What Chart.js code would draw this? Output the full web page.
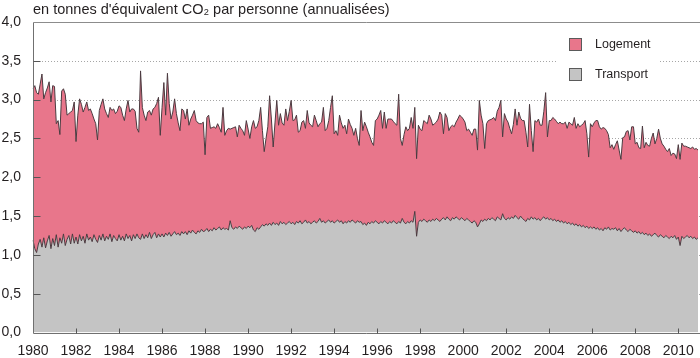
<!DOCTYPE html>
<html lang="fr">
<head>
<meta charset="utf-8">
<title>Émissions de CO2 par personne</title>
<script src="https://cdn.jsdelivr.net/npm/chart.js@4.4.0/dist/chart.umd.min.js"></script>
<style>
  html, body { margin: 0; padding: 0; background: #ffffff; }
  #wrap { position: relative; width: 700px; height: 358px; }
  canvas { display: block; }
</style>
</head>
<body>
<div id="wrap"><canvas id="c" width="700" height="358"></canvas></div>
<script>
// ---- Data (monthly, Jan 1980 – Dec 2010) ----
const firstYear = 1980;
const lastYear = 2010;
const yTickValues = [0, 0.5, 1, 1.5, 2, 2.5, 3, 3.5, 4];
const titleText = "en tonnes d'équivalent CO\u2082 par personne (annualisées)";
const seriesNames = ["Logement", "Transport"];

// Total (Logement + Transport), top edge of the pink area
const totalValues = [
  3.14,3.18,3.09,3.07,3.20,3.33,3.01,3.09,3.15,3.23,2.97,3.18,
  3.17,2.69,2.73,2.55,3.11,3.14,3.07,2.80,2.82,2.84,2.86,2.97,
  2.46,2.80,3.01,2.94,2.84,2.90,2.97,2.86,2.88,2.82,2.75,2.69,
  2.48,2.86,2.94,3.01,2.88,2.82,2.77,2.90,2.86,2.88,2.82,2.85,
  2.92,2.90,2.80,2.73,2.88,2.99,2.84,2.88,2.88,2.85,2.63,2.58,
  3.37,2.90,2.80,2.73,2.84,2.86,2.80,2.88,2.90,2.95,3.03,2.54,
  2.90,3.22,2.80,3.34,2.95,2.75,2.84,3.01,2.82,2.70,2.60,2.88,
  2.86,2.75,2.88,2.67,2.75,2.80,2.86,2.73,2.70,2.69,2.69,2.71,
  2.29,2.77,2.80,2.63,2.64,2.65,2.63,2.69,2.64,2.58,2.90,2.54,
  2.60,2.63,2.62,2.63,2.64,2.65,2.52,2.67,2.63,2.60,2.54,2.73,
  2.62,2.50,2.65,2.73,2.63,2.65,2.73,2.90,2.60,2.33,2.50,2.65,
  3.05,2.75,2.39,2.70,2.99,2.67,2.82,2.70,2.67,2.88,2.73,2.85,
  2.99,2.73,2.74,2.80,2.58,2.60,2.71,2.73,2.63,2.86,2.70,2.67,
  2.65,2.80,2.73,2.65,2.69,2.71,2.90,2.60,2.63,2.73,2.90,3.05,
  2.56,2.60,2.54,2.80,2.70,2.63,2.67,2.56,2.75,2.68,2.63,2.54,
  2.63,2.50,2.41,2.86,2.60,2.71,2.65,2.58,2.52,2.45,2.41,2.73,
  2.75,2.80,2.86,2.63,2.84,2.63,2.75,2.75,2.75,2.72,2.69,2.67,
  3.07,2.50,2.41,2.55,2.65,2.60,2.63,2.77,2.63,2.90,2.24,2.67,
  2.62,2.60,2.73,2.71,2.69,2.80,2.75,2.67,2.69,2.71,2.75,2.84,
  2.80,2.56,2.82,2.77,2.60,2.65,2.67,2.65,2.71,2.75,2.80,2.78,
  2.75,2.71,2.60,2.62,2.58,2.54,2.62,2.62,2.35,2.99,2.80,2.69,
  2.37,2.69,2.73,2.74,2.75,2.77,2.73,2.85,2.90,2.99,2.52,2.82,
  2.75,2.71,2.63,2.56,2.68,2.88,2.67,2.84,2.76,2.73,2.73,2.58,
  2.39,2.94,2.60,2.33,2.73,2.71,2.75,2.67,2.67,2.85,3.09,2.52,
  2.73,2.73,2.77,2.75,2.72,2.69,2.71,2.69,2.69,2.71,2.63,2.71,
  2.69,2.67,2.77,2.63,2.69,2.65,2.67,2.69,2.73,2.56,2.26,2.69,
  2.65,2.70,2.73,2.73,2.65,2.62,2.64,2.63,2.60,2.55,2.38,2.42,
  2.36,2.42,2.47,2.35,2.23,2.51,2.52,2.59,2.60,2.48,2.65,2.65,
  2.43,2.45,2.38,2.37,2.66,2.38,2.45,2.41,2.40,2.50,2.57,2.43,
  2.50,2.62,2.50,2.43,2.40,2.36,2.33,2.37,2.28,2.31,2.30,2.24,
  2.42,2.23,2.44,2.40,2.40,2.39,2.38,2.37,2.39,2.36,2.37,2.35
];

// Transport (grey area)
const transportValues = [
  1.19,1.08,1.03,1.14,1.20,1.10,1.22,1.09,1.18,1.25,1.08,1.21,
  1.12,1.26,1.10,1.22,1.15,1.27,1.12,1.20,1.25,1.14,1.27,1.15,
  1.23,1.14,1.26,1.18,1.24,1.15,1.27,1.19,1.23,1.17,1.26,1.20,
  1.16,1.25,1.19,1.27,1.18,1.24,1.20,1.27,1.17,1.25,1.21,1.18,
  1.26,1.19,1.24,1.18,1.27,1.21,1.25,1.18,1.26,1.21,1.27,1.22,
  1.20,1.27,1.21,1.26,1.22,1.29,1.21,1.26,1.29,1.22,1.27,1.23,
  1.27,1.23,1.28,1.25,1.29,1.24,1.27,1.30,1.26,1.28,1.25,1.30,
  1.27,1.30,1.26,1.31,1.28,1.32,1.29,1.27,1.31,1.29,1.33,1.30,
  1.31,1.34,1.30,1.33,1.31,1.35,1.32,1.34,1.36,1.32,1.35,1.33,
  1.34,1.32,1.44,1.35,1.33,1.36,1.34,1.37,1.35,1.33,1.36,1.34,
  1.37,1.35,1.38,1.32,1.30,1.35,1.33,1.36,1.39,1.37,1.40,1.38,
  1.41,1.38,1.42,1.39,1.41,1.38,1.43,1.40,1.42,1.39,1.41,1.43,
  1.40,1.42,1.39,1.43,1.41,1.44,1.40,1.42,1.45,1.41,1.43,1.40,
  1.42,1.44,1.41,1.43,1.47,1.42,1.44,1.41,1.43,1.45,1.42,1.44,
  1.41,1.43,1.45,1.42,1.44,1.40,1.43,1.41,1.44,1.42,1.45,1.43,
  1.41,1.44,1.42,1.43,1.39,1.41,1.38,1.42,1.40,1.43,1.41,1.44,
  1.42,1.40,1.43,1.41,1.44,1.42,1.40,1.43,1.41,1.44,1.42,1.40,
  1.43,1.41,1.47,1.42,1.40,1.43,1.41,1.44,1.42,1.56,1.24,1.42,
  1.45,1.43,1.46,1.44,1.42,1.45,1.43,1.46,1.44,1.47,1.45,1.43,
  1.46,1.48,1.45,1.49,1.46,1.44,1.48,1.46,1.49,1.47,1.45,1.48,
  1.46,1.44,1.47,1.45,1.43,1.41,1.44,1.42,1.36,1.40,1.45,1.43,
  1.46,1.44,1.47,1.45,1.48,1.46,1.44,1.49,1.47,1.45,1.53,1.47,
  1.45,1.48,1.46,1.49,1.47,1.51,1.48,1.46,1.50,1.47,1.45,1.43,
  1.47,1.45,1.49,1.46,1.48,1.45,1.47,1.44,1.47,1.49,1.46,1.48,
  1.45,1.47,1.44,1.46,1.43,1.45,1.42,1.44,1.41,1.43,1.40,1.42,
  1.39,1.41,1.38,1.40,1.37,1.39,1.36,1.38,1.35,1.37,1.34,1.36,
  1.34,1.36,1.33,1.35,1.32,1.34,1.31,1.35,1.33,1.36,1.32,1.34,
  1.33,1.35,1.31,1.34,1.30,1.33,1.35,1.32,1.30,1.33,1.31,1.29,
  1.31,1.28,1.30,1.27,1.29,1.26,1.28,1.25,1.27,1.24,1.26,1.28,
  1.25,1.23,1.26,1.24,1.22,1.25,1.23,1.21,1.24,1.22,1.25,1.20,
  1.23,1.12,1.24,1.21,1.23,1.25,1.22,1.24,1.21,1.23,1.20,1.22
];

// ---- Build what the library needs from the arrays ----
const monthLabels = [];
for (let yr = firstYear; yr <= lastYear; yr++) {
  for (let mo = 1; mo <= 12; mo++) monthLabels.push(yr + "-" + String(mo).padStart(2, "0"));
}
const logementValues = totalValues.map((t, i) => Math.round((t - transportValues[i]) * 100) / 100);

const FONT = "'Liberation Sans', Arial, Helvetica, sans-serif";
const TEXT = "#231f20";
const PINK = "#e8768b";
const GREY = "#c4c4c4";
const LINE = "#4b3b40";

function isYearTick(label) {
  const yr = parseInt(label.slice(0, 4), 10);
  return label.endsWith("-01") && (yr - firstYear) % 2 === 0;
}

const decor = {
  id: "decor",
  beforeDatasetsDraw(chart) {
    const { ctx, chartArea: a, scales: { y } } = chart;
    ctx.save();
    ctx.strokeStyle = "#a6a6a6";
    ctx.lineWidth = 1;
    ctx.setLineDash([1, 2]);
    yTickValues.forEach(v => {
      if (v <= 0 || v >= 4) return;
      const py = Math.round(y.getPixelForValue(v)) + 0.5;
      ctx.beginPath(); ctx.moveTo(a.left, py); ctx.lineTo(700, py); ctx.stroke();
    });
    ctx.restore();
  },
  afterDatasetsDraw(chart) {
    const { ctx, chartArea: a, scales: { x, y } } = chart;
    ctx.save();
    ctx.lineWidth = 1;
    ctx.strokeStyle = "#8c8c8c";
    const top = Math.round(y.getPixelForValue(4)) + 0.5;
    const bot = Math.round(y.getPixelForValue(0)) + 0.5;
    const left = Math.round(a.left) + 0.5;
    ctx.beginPath(); ctx.moveTo(left, top); ctx.lineTo(700, top); ctx.stroke();
    ctx.strokeStyle = "#707070";
    ctx.beginPath(); ctx.moveTo(left, top); ctx.lineTo(left, bot); ctx.lineTo(700, bot); ctx.stroke();
    // inward ticks
    ctx.strokeStyle = "#555555";
    yTickValues.forEach(v => {
      if (v <= 0 || v >= 4) return;
      const py = Math.round(y.getPixelForValue(v)) + 0.5;
      ctx.beginPath(); ctx.moveTo(left, py); ctx.lineTo(left + 7, py); ctx.stroke();
    });
    monthLabels.forEach((lab, i) => {
      if (!isYearTick(lab) || i === 0) return;
      const px = Math.round(x.getPixelForValue(i)) + 0.5;
      ctx.beginPath(); ctx.moveTo(px, bot); ctx.lineTo(px, bot - 5); ctx.stroke();
    });
    // legend
    ctx.fillStyle = "#ffffff";
    ctx.fillRect(557, 30, 102, 60);
    const items = [
      { name: seriesNames[0], color: PINK, y: 38 },
      { name: seriesNames[1], color: GREY, y: 68 }
    ];
    items.forEach(it => {
      ctx.fillStyle = it.color;
      ctx.fillRect(569, it.y, 13, 13);
      ctx.strokeStyle = "#5a5a5a";
      ctx.strokeRect(569.5, it.y + 0.5, 12, 12);
      ctx.fillStyle = TEXT;
      ctx.font = "12.5px " + FONT;
      ctx.textBaseline = "middle";
      ctx.textAlign = "left";
      ctx.fillText(it.name, 595, it.y + 6.5);
    });
    // title
    ctx.fillStyle = TEXT;
    ctx.font = "14.5px " + FONT;
    ctx.textBaseline = "alphabetic";
    ctx.textAlign = "left";
    ctx.fillText(titleText, 33, 14);
    ctx.restore();
  }
};

new Chart(document.getElementById("c"), {
  type: "line",
  data: {
    labels: monthLabels,
    datasets: [
      { label: seriesNames[1], data: transportValues, fill: "origin", backgroundColor: GREY,
        borderColor: LINE, borderWidth: 1, pointRadius: 0, tension: 0 },
      { label: seriesNames[0], data: logementValues, fill: "-1", backgroundColor: PINK,
        borderColor: LINE, borderWidth: 1, pointRadius: 0, tension: 0 }
    ]
  },
  options: {
    responsive: false,
    animation: false,
    devicePixelRatio: 1,
    layout: { autoPadding: false, padding: { top: 22, right: 2, left: 0, bottom: 0 } },
    plugins: { legend: { display: false }, tooltip: { enabled: false }, title: { display: false } },
    scales: {
      x: {
        type: "category",
        offset: false,
        grid: { display: false, drawTicks: false },
        border: { display: false },
        ticks: {
          autoSkip: false, maxRotation: 0, minRotation: 0, padding: 10,
          color: TEXT, font: { size: 14, family: FONT },
          callback: function (v) {
            const lab = this.getLabelForValue(v);
            return isYearTick(lab) ? lab.slice(0, 4) : "";
          }
        },
        afterFit: s => { s.height = 25.5; s.paddingLeft = 0; s.paddingRight = 0; }
      },
      y: {
        stacked: true, min: 0, max: 4,
        grid: { display: false, drawTicks: false },
        border: { display: false },
        ticks: {
          stepSize: 0.5, padding: 12, color: TEXT, font: { size: 14, family: FONT },
          callback: v => v.toFixed(1).replace(".", ",")
        },
        afterFit: s => { s.width = 33; s.paddingTop = 0; s.paddingBottom = 0; }
      }
    }
  },
  plugins: [decor]
});
</script>
</body>
</html>
